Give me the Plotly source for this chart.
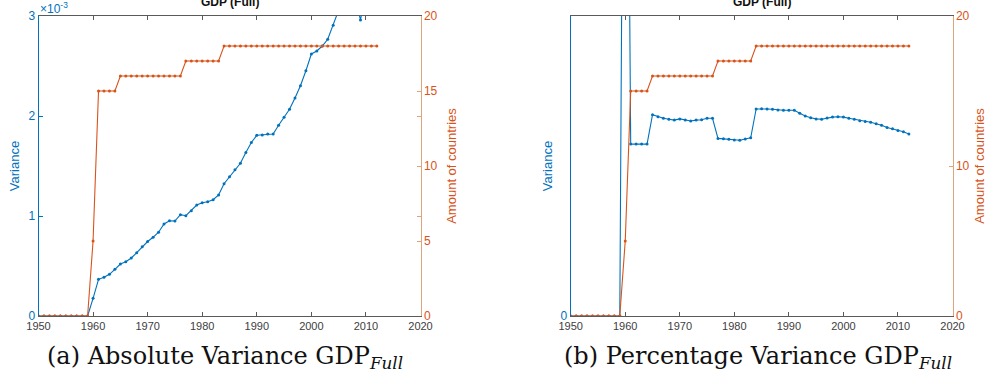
import plotly.graph_objects as go

years = list(range(1950, 2013))

# Amount of countries (same in both panels)
countries = [0]*10 + [5] + [15]*4 + [16]*12 + [17]*7 + [18]*29

# (a) Absolute variance (axis units x10^-3)
abs_var = [0]*10 + [
    0.177, 0.367, 0.387, 0.417, 0.467, 0.52, 0.543, 0.58, 0.633, 0.693,   # 1960-1969
    0.745, 0.787, 0.838, 0.92, 0.953, 0.95, 1.013, 1.003, 1.053, 1.11,     # 1970-1979
    1.133, 1.143, 1.163, 1.21, 1.323, 1.393, 1.463, 1.527, 1.635, 1.735,   # 1980-1989
    1.807, 1.81, 1.82, 1.82, 1.907, 1.987, 2.067, 2.18, 2.303, 2.453,      # 1990-1999
    2.62, 2.65, 2.70, 2.767, 2.907, 3.03, 3.2, 3.35, 3.2, 2.96,            # 2000-2009
    3.25, 3.4, 3.5]                                                         # 2010-2012

# (b) Percentage variance (relative axis units)
pct_var = [0]*10 + [
    3.0, 0.573, 0.573, 0.573, 0.573, 0.671, 0.664, 0.659, 0.656, 0.653,    # 1960-1969
    0.657, 0.653, 0.650, 0.653, 0.654, 0.659, 0.659, 0.592, 0.591, 0.589,  # 1970-1979
    0.587, 0.586, 0.590, 0.594, 0.690, 0.691, 0.690, 0.689, 0.687, 0.686,  # 1980-1989
    0.686, 0.686, 0.676, 0.667, 0.661, 0.657, 0.656, 0.660, 0.663, 0.664,  # 1990-1999
    0.663, 0.659, 0.656, 0.651, 0.648, 0.646, 0.641, 0.636, 0.628, 0.624,  # 2000-2009
    0.618, 0.614, 0.607]                                                    # 2010-2012

x_ticks = [1950, 1960, 1970, 1980, 1990, 2000, 2010, 2020]
a_left_ticks = [0, 1, 2, 3]
a_right_ticks = [0, 5, 10, 15, 20]
b_left_ticks = [0]
b_right_ticks = [0, 10, 20]

BLUE = "#0072BD"
ORANGE = "#D95319"
ORANGE_AX = "#DFA47E"
GRAY = "#404040"
W, H = 987, 392

def px_x(p):
    return p / W

def px_y(p):
    return (H - p) / H

fig = go.Figure()

mk = dict(size=3, symbol="circle")
lw = 1.1
fig.add_trace(go.Scatter(x=years, y=abs_var, mode="lines+markers", line=dict(color=BLUE, width=lw),
                         marker=dict(color=BLUE, **mk), xaxis="x", yaxis="y", showlegend=False))
fig.add_trace(go.Scatter(x=years, y=countries, mode="lines+markers", line=dict(color=ORANGE, width=lw),
                         marker=dict(color=ORANGE, **mk), xaxis="x", yaxis="y2", showlegend=False))
fig.add_trace(go.Scatter(x=years, y=pct_var, mode="lines+markers", line=dict(color=BLUE, width=lw),
                         marker=dict(color=BLUE, **mk), xaxis="x2", yaxis="y3", showlegend=False))
fig.add_trace(go.Scatter(x=years, y=countries, mode="lines+markers", line=dict(color=ORANGE, width=lw),
                         marker=dict(color=ORANGE, **mk), xaxis="x2", yaxis="y4", showlegend=False))

ydom = [px_y(316), px_y(16)]
xdom_a = [px_x(38.5), px_x(420.5)]
xdom_b = [px_x(570.7), px_x(952.5)]

tickfont_x = dict(family="Liberation Sans, Arial", size=11, color=GRAY)

def xaxis(domain, anchor):
    return dict(domain=domain, anchor=anchor, range=[1950, 2020], tickvals=x_ticks,
                showline=True, linecolor="#5a5a5a", linewidth=1, mirror="ticks",
                ticks="inside", ticklen=4, tickcolor="#5a5a5a", showgrid=False,
                zeroline=False, tickfont=tickfont_x, automargin=False)

def yaxis(color, linecolor, rng, ticks, title, side, anchor, overlaying=None, ticktext=None, standoff=8):
    d = dict(domain=ydom, anchor=anchor, range=rng, tickvals=ticks, side=side,
             showline=True, linecolor=linecolor, linewidth=1, ticks="inside", ticklen=4,
             tickcolor=linecolor, showgrid=False, zeroline=False, automargin=False,
             tickfont=dict(family="Liberation Sans, Arial", size=12, color=color),
             title=dict(text=title, font=dict(family="Liberation Sans, Arial", size=13, color=color),
                        standoff=standoff))
    if ticktext is not None:
        d["ticktext"] = ticktext
    if overlaying:
        d["overlaying"] = overlaying
    return d

fig.update_layout(
    width=W, height=H,
    margin=dict(l=0, r=0, t=0, b=0, autoexpand=False),
    paper_bgcolor="white", plot_bgcolor="rgba(0,0,0,0)",
    xaxis=xaxis(xdom_a, "y"),
    yaxis=yaxis(BLUE, BLUE, [0, 3], a_left_ticks, "Variance", "left", "x", standoff=5),
    yaxis2=yaxis(ORANGE, ORANGE_AX, [0, 20], [0, 5, 20/3, 10, 40/3, 15, 20], "Amount of countries", "right", "x",
                 overlaying="y", ticktext=["0", "5", "", "10", "", "15", "20"], standoff=10),
    xaxis2=xaxis(xdom_b, "y3"),
    yaxis3=yaxis(BLUE, BLUE, [0, 1], b_left_ticks, "Variance", "left", "x2", standoff=5),
    yaxis4=yaxis(ORANGE, ORANGE_AX, [0, 20], b_right_ticks, "Amount of countries", "right", "x2",
                 overlaying="y3", standoff=10),
)

titles = [((38.5 + 420.5) / 2, "GDP (Full)"), ((570.7 + 952.5) / 2, "GDP (Full)")]
for cx, t in titles:
    fig.add_annotation(x=px_x(cx), y=px_y(2), xref="paper", yref="paper", text="<b>" + t + "</b>",
                       showarrow=False, xanchor="center", yanchor="middle",
                       font=dict(family="Liberation Sans, Arial", size=12, color="#111111"))

fig.add_annotation(x=px_x(38), y=px_y(8), xref="paper", yref="paper", text="×10<sup>-3</sup>",
                   showarrow=False, xanchor="left", yanchor="middle",
                   font=dict(family="Liberation Sans, Arial", size=12, color=BLUE))

captions = [(225, "(a) Absolute Variance GDP<sub><i>Full</i></sub>"),
            (758, "(b) Percentage Variance GDP<sub><i>Full</i></sub>")]
for cx, t in captions:
    fig.add_annotation(x=px_x(cx), y=px_y(357), xref="paper", yref="paper", text=t,
                       showarrow=False, xanchor="center", yanchor="middle",
                       font=dict(family="DejaVu Serif, Liberation Serif", size=24, color="#111111"))

fig.write_html("out.html", config={"displayModeBar": False},
               post_script="document.body.style.margin='0';document.body.style.overflow='hidden';")
